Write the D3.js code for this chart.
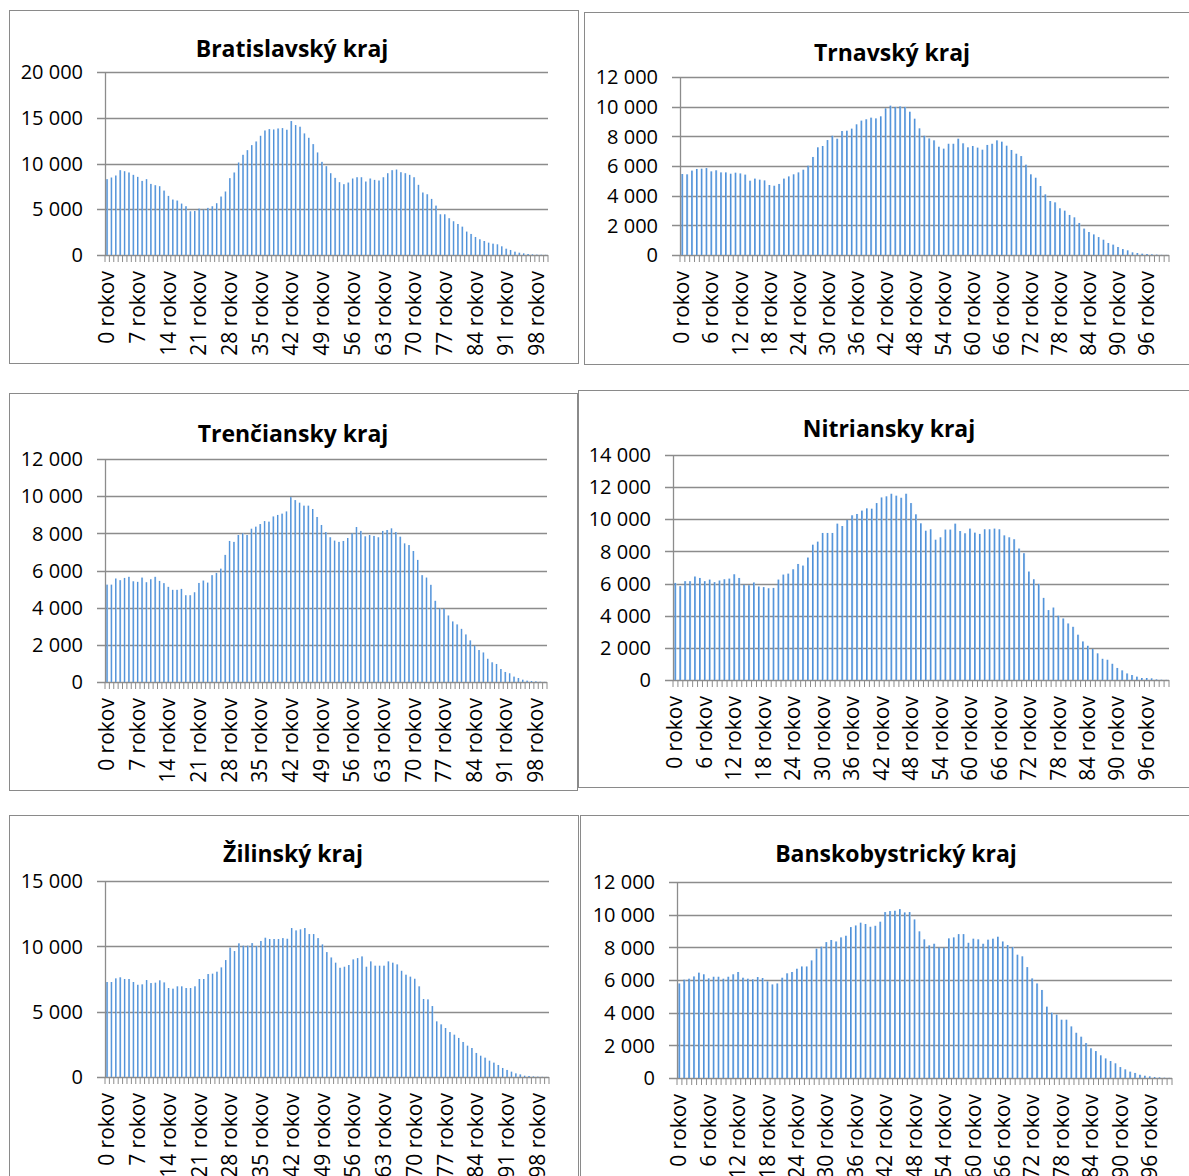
<!DOCTYPE html>
<html>
<head>
<meta charset="utf-8">
<script src="https://cdn.jsdelivr.net/npm/d3@7"></script>
<style>
  body { margin: 0; background: #fff; }
  svg { display: block; }
  text { font-family: "Open Sans", "Noto Sans", sans-serif; fill: #000; }
</style>
</head>
<body>
<div id="chart"></div>
<script>
// age categories 0..100
const ages = d3.range(0, 101).map((a) => a + " rokov");

// population by age
const bratislavsky = [8290, 8470, 8690, 9270, 9160, 9020, 8760, 8540, 8100, 8290,
  7770, 7630, 7520, 7040, 6460, 6060, 5950, 5620, 5330, 4780,
  4820, 5070, 4960, 5150, 5330, 5660, 6390, 6940, 8400, 9020,
  10110, 10950, 11460, 12010, 12410, 13030, 13610, 13760, 13720, 13830,
  13870, 13690, 14640, 14200, 14020, 13290, 12810, 12120, 11210, 10180,
  9710, 8940, 8430, 7960, 7740, 7920, 8360, 8500, 8500, 8030,
  8360, 8210, 8140, 8500, 8940, 9270, 9340, 9050, 8940, 8760,
  8500, 7670, 6830, 6640, 6130, 5400, 4450, 4450, 4020, 3690,
  3390, 3100, 2560, 2300, 1970, 1720, 1530, 1350, 1240, 1170,
  950, 690, 550, 365, 255, 180, 110, 73, 40, 30, 20];

const trnavsky = [5460, 5440, 5690, 5800, 5820, 5860, 5640, 5710, 5570, 5570,
  5480, 5550, 5500, 5420, 5010, 5150, 5080, 5030, 4720, 4670,
  4790, 5150, 5300, 5440, 5570, 5750, 6020, 6610, 7260, 7350,
  7750, 8040, 7840, 8360, 8380, 8520, 8810, 9060, 9150, 9260,
  9210, 9350, 9890, 10070, 9980, 10020, 9980, 9660, 9190, 8540,
  8040, 7860, 7730, 7300, 7170, 7500, 7500, 7840, 7530, 7260,
  7350, 7240, 7100, 7420, 7500, 7730, 7640, 7370, 7080, 6830,
  6670, 6090, 5440, 5210, 4650, 4090, 3640, 3550, 3150, 2990,
  2700, 2540, 2160, 1780, 1550, 1390, 1210, 1030, 810, 700,
  540, 400, 315, 180, 135, 90, 67, 45, 25, 12, 8];

const trenciansky = [5240, 5240, 5570, 5480, 5600, 5660, 5420, 5390, 5620, 5370,
  5530, 5660, 5440, 5320, 5120, 4960, 4960, 5010, 4670, 4670,
  4830, 5330, 5460, 5350, 5750, 5870, 6100, 6840, 7590, 7540,
  7910, 8000, 7910, 8250, 8360, 8500, 8660, 8630, 8910, 8990,
  9060, 9180, 9950, 9790, 9650, 9490, 9490, 9310, 8880, 8450,
  8070, 7790, 7610, 7540, 7590, 7750, 8000, 8340, 8130, 7840,
  7910, 7860, 7790, 8130, 8180, 8270, 8070, 7820, 7460, 7370,
  7050, 6570, 5750, 5620, 5230, 4370, 3960, 3940, 3580, 3260,
  3100, 2860, 2560, 2240, 1950, 1720, 1590, 1250, 1060, 970,
  700, 540, 470, 290, 215, 125, 72, 54, 36, 18, 8];

const nitriansky = [6040, 5840, 6150, 6150, 6440, 6350, 6150, 6250, 6090, 6190,
  6270, 6310, 6580, 6350, 5920, 5900, 6070, 5820, 5780, 5710,
  5730, 6250, 6560, 6620, 6890, 7220, 7120, 7620, 8420, 8610,
  9150, 9150, 9150, 9730, 9580, 9960, 10250, 10330, 10540, 10680,
  10660, 11010, 11360, 11430, 11590, 11470, 11340, 11590, 11010, 10310,
  9750, 9290, 9380, 8730, 8880, 9360, 9360, 9730, 9270, 9130,
  9420, 9170, 9090, 9380, 9380, 9420, 9380, 9000, 8880, 8760,
  8180, 7890, 6750, 6270, 5980, 5110, 4350, 4510, 4000, 3830,
  3520, 3310, 2820, 2400, 2130, 1930, 1660, 1320, 1260, 1010,
  750, 600, 410, 310, 210, 125, 125, 105, 40, 20, 10];

const zilinsky = [7270, 7270, 7550, 7630, 7500, 7500, 7270, 7060, 7090, 7420,
  7190, 7220, 7400, 7240, 6810, 6760, 6940, 6940, 6810, 6810,
  6940, 7500, 7500, 7880, 7910, 8060, 8390, 8950, 9900, 9640,
  10230, 10050, 10050, 10250, 10030, 10410, 10660, 10560, 10560, 10560,
  10630, 10580, 11400, 11220, 11300, 11400, 10940, 10940, 10630, 10150,
  9560, 9150, 8750, 8360, 8440, 8570, 9000, 9100, 9230, 8440,
  8850, 8520, 8520, 8520, 8850, 8750, 8620, 8130, 7830, 7680,
  7520, 6940, 5970, 5940, 5430, 4260, 4030, 3750, 3440, 3240,
  2990, 2680, 2400, 2220, 1840, 1630, 1480, 1250, 1100, 920,
  690, 540, 410, 280, 200, 100, 77, 50, 30, 15, 8];

const banskobystricky = [5790, 6020, 6080, 6220, 6450, 6350, 6100, 6200, 6200, 6080,
  6200, 6350, 6490, 6140, 6080, 6040, 6180, 6120, 5920, 5730,
  5790, 6140, 6410, 6490, 6690, 6830, 6830, 7200, 7920, 8040,
  8320, 8450, 8360, 8610, 8710, 9240, 9340, 9510, 9430, 9260,
  9320, 9570, 10160, 10220, 10240, 10340, 10140, 10160, 9710, 8980,
  8490, 8120, 8220, 7980, 7980, 8550, 8610, 8810, 8810, 8280,
  8530, 8490, 8220, 8470, 8530, 8650, 8360, 8140, 8020, 7550,
  7450, 6790, 6100, 5790, 5390, 4370, 4000, 3880, 3570, 3570,
  3160, 2770, 2530, 2140, 1820, 1650, 1390, 1200, 1040, 900,
  670, 530, 390, 310, 200, 140, 100, 60, 40, 20, 10];

const titles = ["Bratislavský kraj", "Trnavský kraj", "Trenčiansky kraj",
  "Nitriansky kraj", "Žilinský kraj", "Banskobystrický kraj"];
const seriesList = [bratislavsky, trnavsky, trenciansky, nitriansky, zilinsky, banskobystricky];
const yMaxes = [20000, 12000, 12000, 14000, 15000, 12000];
const ySteps = [5000, 2000, 2000, 2000, 5000, 2000];
const labelEvery = [7, 6, 7, 6, 7, 6];

// layout of each panel: frame box, plot box, title position
const layout = [
  { frame: [9, 10, 578, 363], plot: [105, 72, 548, 255], title: [292, 57] },
  { frame: [584, 12, 1189, 364], plot: [680, 77, 1169, 255], title: [892, 61] },
  { frame: [9, 393, 577, 790], plot: [105, 459, 547, 682], title: [293, 442] },
  { frame: [578, 390, 1189, 787], plot: [673, 455, 1169, 680], title: [889, 437] },
  { frame: [9, 815, 578, 1190], plot: [105, 881, 549, 1077], title: [293, 862] },
  { frame: [580, 815, 1190, 1190], plot: [677, 882, 1172, 1078], title: [896, 862] }
];

const fmt = d3.formatLocale({ decimal: ",", thousands: " ", grouping: [3], currency: ["", ""] }).format(",");

const svg = d3.select("#chart").append("svg").attr("width", 1189).attr("height", 1176);

const grad = svg.append("defs").append("linearGradient").attr("id", "barGrad")
  .attr("x1", 0).attr("x2", 1).attr("y1", 0).attr("y2", 0);
grad.append("stop").attr("offset", "0%").attr("stop-color", "#4587d2");
grad.append("stop").attr("offset", "55%").attr("stop-color", "#5a9ade");
grad.append("stop").attr("offset", "100%").attr("stop-color", "#b3d1f0");

const gridColor = "#8c8c8c";

const drawPanel = (i) => {
  const L = layout[i];
  const [fx0, fy0, fx1, fy1] = L.frame;
  const [px0, py0, px1, py1] = L.plot;
  const values = seriesList[i];
  const g = svg.append("g");

  g.append("rect")
    .attr("x", fx0 + 0.5).attr("y", fy0 + 0.5)
    .attr("width", fx1 - fx0).attr("height", fy1 - fy0)
    .attr("fill", "none").attr("stroke", "#8a8a8a").attr("stroke-width", 1);

  const x = d3.scaleBand().domain(ages).range([px0, px1]).paddingInner(0.6).paddingOuter(0.3);
  const y = d3.scaleLinear().domain([0, yMaxes[i]]).range([py1, py0]);
  const yTicks = d3.range(0, yMaxes[i] + 1, ySteps[i]);

  // gridlines with outside ticks
  g.append("g").selectAll("line").data(yTicks).enter().append("line")
    .attr("x1", px0 - 8).attr("x2", px1)
    .attr("y1", (d) => Math.round(y(d)) + 0.5).attr("y2", (d) => Math.round(y(d)) + 0.5)
    .attr("stroke", gridColor).attr("stroke-width", 1.3);

  g.append("g").selectAll("text").data(yTicks).enter().append("text")
    .attr("x", px0 - 22).attr("y", (d) => y(d))
    .attr("dy", "0.36em")
    .attr("text-anchor", "end")
    .style("font-size", "20px")
    .text((d) => fmt(d));

  // bars
  g.append("g").selectAll("rect").data(values).enter().append("rect")
    .attr("x", (d, j) => x(ages[j]))
    .attr("width", x.bandwidth())
    .attr("y", (d) => y(d))
    .attr("height", (d) => y(0) - y(d))
    .attr("fill", "url(#barGrad)");

  // y axis line
  g.append("line")
    .attr("x1", Math.round(px0) + 0.5).attr("x2", Math.round(px0) + 0.5)
    .attr("y1", py0).attr("y2", py1)
    .attr("stroke", gridColor).attr("stroke-width", 1.3);

  // category tick marks
  const bounds = d3.range(0, ages.length + 1).map((k) => px0 + (px1 - px0) * k / ages.length);
  g.append("g").selectAll("line").data(bounds).enter().append("line")
    .attr("x1", (d) => d).attr("x2", (d) => d)
    .attr("y1", py1).attr("y2", py1 + 7)
    .attr("stroke", gridColor).attr("stroke-width", 1);

  // category labels
  const shown = ages.filter((a, k) => k % labelEvery[i] === 0);
  g.append("g").selectAll("text").data(shown).enter().append("text")
    .attr("transform", (d) => `translate(${x(d) + x.bandwidth() / 2 + 7},${py1 + 16}) rotate(-90)`)
    .attr("text-anchor", "end")
    .style("font-size", "21px")
    .text((d) => d);

  g.append("text")
    .attr("x", L.title[0]).attr("y", L.title[1])
    .attr("text-anchor", "middle")
    .style("font-size", "23px").style("font-weight", "bold")
    .text(titles[i]);
};

d3.range(0, 6).forEach(drawPanel);
</script>
</body>
</html>
